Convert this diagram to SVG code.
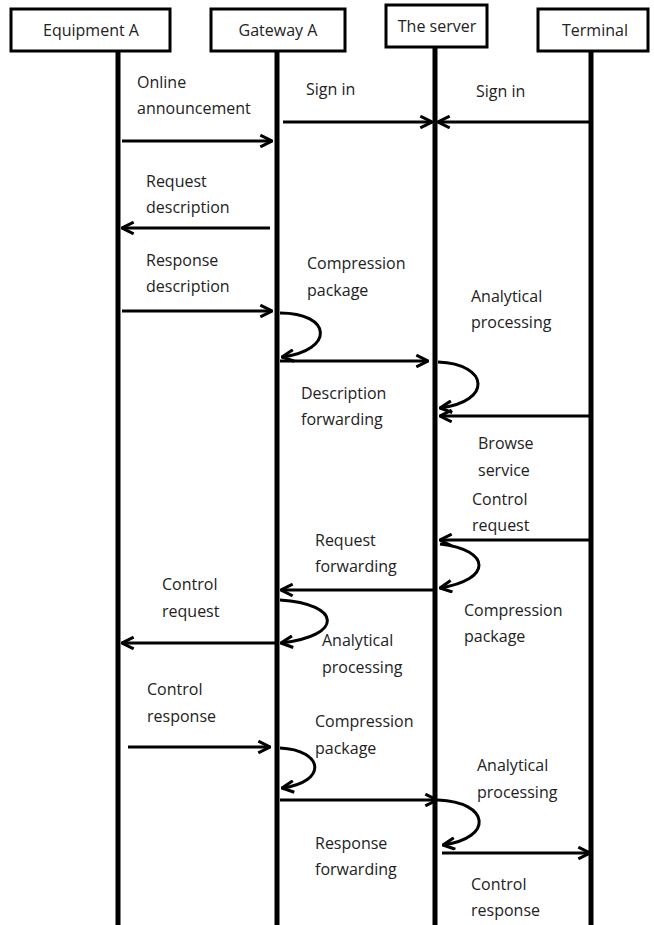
<svg xmlns="http://www.w3.org/2000/svg" width="654" height="925" viewBox="0 0 654 925">
<style>
.box{fill:#fff;stroke:#000;stroke-width:3}
.life{stroke:#000;stroke-width:5}
.msg{fill:none;stroke:#000;stroke-width:3;marker-end:url(#ah)}
text{font-family:"Open Sans","Liberation Sans",sans-serif;font-size:16px;fill:#222}
.c{text-anchor:middle}
</style>
<defs>
<marker id="ah" viewBox="0 0 12 12" refX="11" refY="6" markerWidth="14" markerHeight="14" markerUnits="userSpaceOnUse" orient="auto">
<path d="M1,1 L11,6 L1,11" fill="none" stroke="#000" stroke-width="2.6"/>
</marker>
</defs>
<rect width="654" height="925" fill="#fff"/>
<g id="lifelines">
<line class="life" x1="118" y1="52" x2="118" y2="925"/>
<line class="life" x1="277" y1="52" x2="277" y2="925"/>
<line class="life" x1="435" y1="48" x2="435" y2="925"/>
<line class="life" x1="591" y1="52" x2="591" y2="925"/>
</g>
<g id="equipment-a"><rect class="box" x="11" y="9" width="159" height="42"/><text class="c" x="91" y="36">Equipment A</text></g>
<g id="gateway-a"><rect class="box" x="211" y="9" width="134" height="42"/><text class="c" x="278" y="36">Gateway A</text></g>
<g id="the-server"><rect class="box" x="386" y="5" width="101" height="42"/><text class="c" x="437" y="32">The server</text></g>
<g id="terminal"><rect class="box" x="538" y="9" width="110" height="42"/><text class="c" x="595" y="36">Terminal</text></g>
<g id="connectors">
<path class="msg" d="M122,141 H272"/>
<path class="msg" d="M283,122 H432"/>
<path class="msg" d="M589,122 H438"/>
<path class="msg" d="M270,228 H122"/>
<path class="msg" d="M122,311 H272"/>
<path class="msg" d="M280,313 C332,313 335,350 282,357"/>
<path class="msg" d="M280,361 H428"/>
<path class="msg" d="M438,362 C490,364 492,402 440,408"/>
<path class="msg" d="M589,416 H440"/>
<path class="msg" d="M589,540 H440"/>
<path class="msg" d="M440,544 C492,550 492,580 440,588"/>
<path class="msg" d="M433,590 H281"/>
<path class="msg" d="M280,600 C342,604 344,636 281,643"/>
<path class="msg" d="M275,643 H122"/>
<path class="msg" d="M128,747 H270"/>
<path class="msg" d="M280,748 C324,750 328,782 282,788"/>
<path class="msg" d="M280,800 H437"/>
<path class="msg" d="M438,800 C490,802 494,838 443,845"/>
<path class="msg" d="M442,853 H590"/>
</g>
<g id="labels">
<text x="137" y="88">Online</text>
<text x="137" y="114">announcement</text>
<text x="306" y="95">Sign in</text>
<text x="476" y="97">Sign in</text>
<text x="146" y="187">Request</text>
<text x="146" y="213">description</text>
<text x="146" y="266">Response</text>
<text x="146" y="292">description</text>
<text x="307" y="269">Compression</text>
<text x="307" y="296">package</text>
<text x="471" y="302">Analytical</text>
<text x="471" y="328">processing</text>
<text x="301" y="399">Description</text>
<text x="301" y="425">forwarding</text>
<text x="478" y="449">Browse</text>
<text x="478" y="476">service</text>
<text x="472" y="505">Control</text>
<text x="472" y="531">request</text>
<text x="315" y="546">Request</text>
<text x="315" y="572">forwarding</text>
<text x="464" y="616">Compression</text>
<text x="464" y="642">package</text>
<text x="162" y="590">Control</text>
<text x="162" y="617">request</text>
<text x="322" y="646">Analytical</text>
<text x="322" y="673">processing</text>
<text x="147" y="695">Control</text>
<text x="147" y="722">response</text>
<text x="315" y="727">Compression</text>
<text x="315" y="754">package</text>
<text x="477" y="771">Analytical</text>
<text x="477" y="798">processing</text>
<text x="315" y="849">Response</text>
<text x="315" y="875">forwarding</text>
<text x="471" y="890">Control</text>
<text x="471" y="916">response</text>
</g>
</svg>
